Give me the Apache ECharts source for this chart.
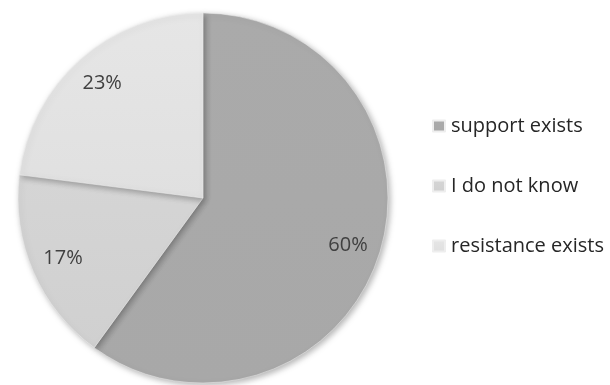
<!DOCTYPE html>
<html>
<head>
<meta charset="utf-8">
<script src="https://cdn.jsdelivr.net/npm/echarts@6/dist/echarts.min.js"></script>
<style>
  html, body { margin: 0; padding: 0; background: #fff; }
  #chart { width: 610px; height: 385px; }
</style>
</head>
<body>
<div id="chart"></div>
<script>
var categories = ['support exists', 'I do not know', 'resistance exists'];
var shares = [60, 17, 23];
var sliceColors = ['#a6a6a6', '#cfcfcf', '#e0e0e0'];

function grad(c) {
    return new echarts.graphic.LinearGradient(0, 0, 0, 1, [
        { offset: 0, color: echarts.color.lift(c, -0.03) },
        { offset: 1, color: echarts.color.lift(c, 0.03) }
    ]);
}

var pieData = [];
var labelData = [];
for (var i = 0; i < categories.length; i++) {
    pieData.push({ name: categories[i], value: shares[i], itemStyle: { color: grad(sliceColors[i]) } });
    labelData.push({ name: categories[i], value: shares[i] });
}

var myChart = echarts.init(document.getElementById('chart'));
myChart.setOption({
    animation: false,
    color: sliceColors,
    legend: {
        orient: 'vertical',
        left: 432,
        top: 114,
        padding: 0,
        itemWidth: 12,
        itemHeight: 11,
        itemGap: 36,
        icon: 'rect',
        data: categories,
        textStyle: { fontFamily: 'Open Sans', fontSize: 20, color: '#262626', lineHeight: 24, padding: [0, 0, 0, 1] }
    },
    series: [
        {
            type: 'pie',
            center: [203, 198],
            radius: [0, 185],
            startAngle: 90,
            clockwise: true,
            silent: true,
            label: { show: false },
            labelLine: { show: false },
            itemStyle: {
                borderColor: '#eeeeee',
                borderWidth: 0.5,
                shadowBlur: 6,
                shadowOffsetX: 2,
                shadowOffsetY: 2,
                shadowColor: 'rgba(0,0,0,0.3)'
            },
            data: pieData
        },
        {
            type: 'pie',
            center: [203, 198],
            radius: [114, 185],
            startAngle: 90,
            clockwise: true,
            silent: true,
            legendHoverLink: false,
            itemStyle: { color: 'rgba(0,0,0,0)' },
            label: {
                show: true,
                position: 'inside',
                formatter: '{c}%',
                fontFamily: 'Open Sans',
                fontSize: 20,
                color: '#404040'
            },
            labelLine: { show: false },
            data: labelData
        }
    ]
});
</script>
</body>
</html>
